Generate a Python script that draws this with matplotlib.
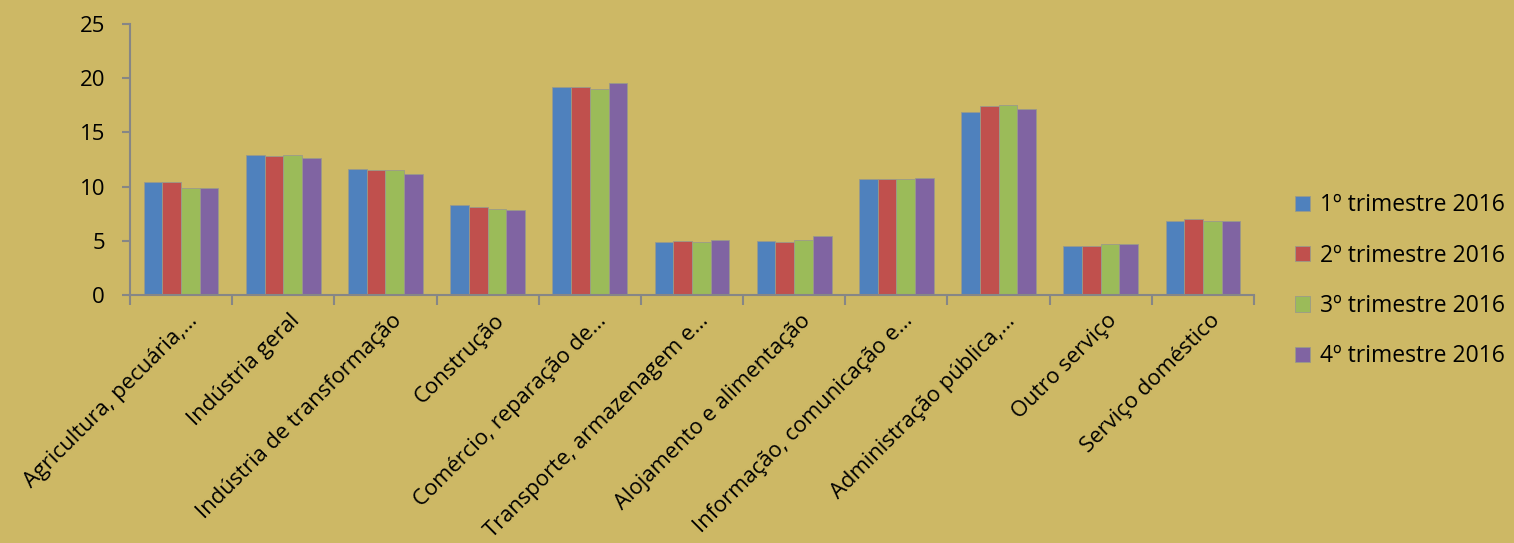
import matplotlib
matplotlib.use("Agg")
import matplotlib.pyplot as plt
import matplotlib.transforms as mtransforms
import numpy as np

categories = [
    "Agricultura, pecuária,…",
    "Indústria geral",
    "Indústria de transformação",
    "Construção",
    "Comércio, reparação de…",
    "Transporte, armazenagem e…",
    "Alojamento e alimentação",
    "Informação, comunicação e…",
    "Administração pública,…",
    "Outro serviço",
    "Serviço doméstico",
]
series_names = ["1º trimestre 2016", "2º trimestre 2016", "3º trimestre 2016", "4º trimestre 2016"]
t1 = [10.4, 12.9, 11.6, 8.3, 19.2, 4.9, 5.0, 10.7, 16.9, 4.5, 6.8]
t2 = [10.4, 12.8, 11.5, 8.1, 19.2, 5.0, 4.9, 10.7, 17.4, 4.5, 7.0]
t3 = [9.9, 12.9, 11.5, 7.9, 19.0, 4.9, 5.1, 10.7, 17.5, 4.7, 6.8]
t4 = [9.9, 12.6, 11.2, 7.8, 19.6, 5.1, 5.4, 10.8, 17.2, 4.7, 6.8]
series = [t1, t2, t3, t4]
colors = ["#4F81BD", "#C0504D", "#9BBB59", "#8064A2"]

bg = "#CDB865"
axis_col = "#868686"

plt.rcParams["font.family"] = ["Open Sans", "DejaVu Sans"]

fig = plt.figure(figsize=(15.14, 5.43), dpi=100, facecolor=bg)
ax = fig.add_axes([130 / 1514, 1 - 295 / 543, (1254 - 130) / 1514, (295 - 24) / 543])
ax.set_facecolor(bg)

x = np.arange(len(categories))
w = 0.183
for i, (vals, name, c) in enumerate(zip(series, series_names, colors)):
    ax.bar(x + (i - 1.5) * w, vals, width=w, color=c, label=name,
           edgecolor="#9a9a8a", linewidth=0.6)

ax.set_xlim(-0.5, len(categories) - 0.5)
ax.set_ylim(0, 25)
ax.set_yticks(range(0, 26, 5))
ax.tick_params(axis="y", labelsize=16, length=6, width=1.5, color=axis_col, pad=12)

ax.set_xticks(x)
ax.set_xticklabels(categories, rotation=45, ha="right", rotation_mode="anchor", fontsize=15.8)
ax.tick_params(axis="x", length=0, pad=11)
# Excel puts the end of each rotated label a little right of the category centre
shift = mtransforms.ScaledTranslation(6 / 100, 0, fig.dpi_scale_trans)
for lab in ax.get_xticklabels():
    lab.set_transform(lab.get_transform() + shift)
ax.set_xticks(np.arange(-0.5, len(categories)), minor=True)
ax.tick_params(axis="x", which="minor", length=7, width=1.5, color=axis_col)

for s in ["top", "right"]:
    ax.spines[s].set_visible(False)
for s in ["left", "bottom"]:
    ax.spines[s].set_color(axis_col)
    ax.spines[s].set_linewidth(1.5)

ax.legend(loc="center left", bbox_to_anchor=(1.018, 0.052), frameon=False,
          fontsize=16.5, labelspacing=1.15, handlelength=0.65, handleheight=0.65,
          handletextpad=0.45)

fig.savefig("out.png", dpi=100, facecolor=bg)
